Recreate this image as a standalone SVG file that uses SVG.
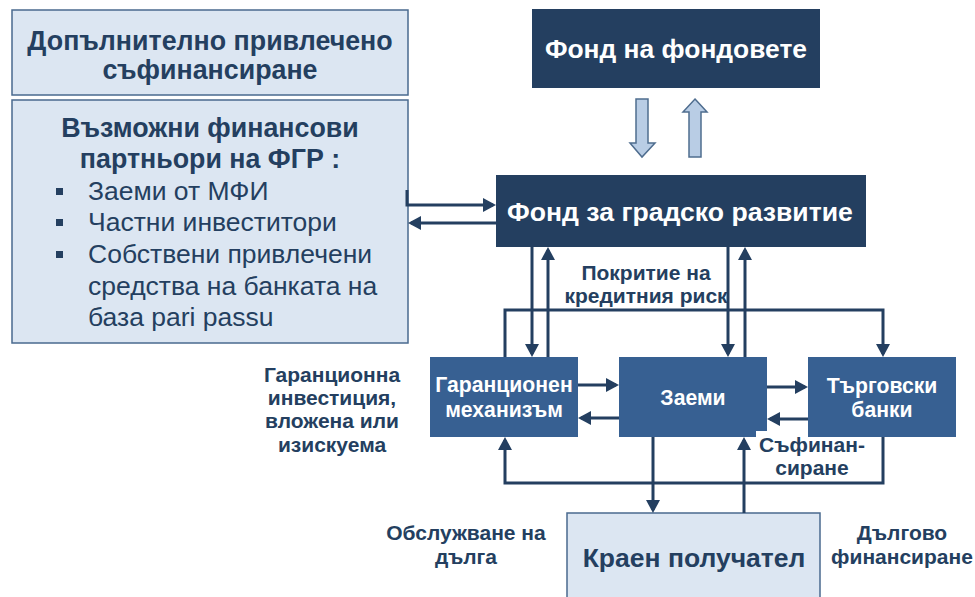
<svg xmlns="http://www.w3.org/2000/svg" width="975" height="597" viewBox="0 0 975 597">
<style>
.light{fill:#dce6f2;stroke:#4a6a8f;stroke-width:1.5}
.dark{fill:#243f60}
.mid{fill:#376092}
.tb{font-family:"Liberation Sans",Arial,sans-serif;font-weight:bold;fill:#243f60}
.tr{font-family:"Liberation Sans",Arial,sans-serif;fill:#243f60}
.tw{font-family:"Liberation Sans",Arial,sans-serif;font-weight:bold;fill:#ffffff}
.c{fill:none;stroke:#243f60;stroke-width:3}
.ca{fill:none;stroke:#243f60;stroke-width:3;marker-end:url(#ah)}
.blk{fill:#b9cde5;stroke:#4f6d8f;stroke-width:1.5}
</style>
<defs>
<marker id="ah" viewBox="0 0 13 14" refX="10" refY="7" markerWidth="13" markerHeight="14" markerUnits="userSpaceOnUse" orient="auto">
<path d="M0,0 L13,7 L0,14 z" fill="#243f60"/>
</marker>
</defs>
<rect width="975" height="597" fill="#ffffff"/>

<g id="cofin">
<rect class="light" x="12" y="10" width="396" height="85"/>
<text class="tb" font-size="26.8" text-anchor="middle" x="210" y="50">Допълнително привлечено</text>
<text class="tb" font-size="26.8" text-anchor="middle" x="210" y="79">съфинансиране</text>
</g>

<g id="partners">
<rect class="light" x="12" y="100" width="396" height="243"/>
<text class="tb" font-size="26.8" text-anchor="middle" x="210" y="137">Възможни финансови</text>
<text class="tb" font-size="26.8" text-anchor="middle" x="210" y="168">партньори на ФГР :</text>
<rect x="56" y="188" width="7" height="7" fill="#243f60"/>
<rect x="56" y="219" width="7" height="7" fill="#243f60"/>
<rect x="56" y="251" width="7" height="7" fill="#243f60"/>
<text class="tr" font-size="26.5" x="88" y="200">Заеми от МФИ</text>
<text class="tr" font-size="26.5" x="88" y="231">Частни инвеститори</text>
<text class="tr" font-size="26.5" x="88" y="263">Собствени привлечени</text>
<text class="tr" font-size="26.5" x="88" y="295">средства на банката на</text>
<text class="tr" font-size="26.5" x="88" y="326">база pari passu</text>
</g>

<g id="fof">
<rect class="dark" x="532" y="9" width="288" height="79"/>
<text class="tw" font-size="26.4" text-anchor="middle" x="676" y="58">Фонд на фондовете</text>
</g>

<g id="blockarrows">
<polygon class="blk" points="636,99 648,99 648,143 655,143 642,157 630,143 636,143"/>
<polygon class="blk" points="695,99 707,112 701,112 701,157 689,157 689,112 683,112"/>
</g>

<g id="fgr">
<rect class="dark" x="496" y="175" width="370" height="72"/>
<text class="tw" font-size="26.6" text-anchor="middle" x="680" y="221">Фонд за градско развитие</text>
</g>

<g id="guarantee">
<rect class="mid" x="430" y="357" width="148" height="80"/>
<text class="tw" font-size="21.2" text-anchor="middle" x="504" y="392">Гаранционен</text>
<text class="tw" font-size="21.2" text-anchor="middle" x="504" y="417">механизъм</text>
</g>

<g id="loans">
<rect class="mid" x="619" y="357" width="148" height="80"/>
<text class="tw" font-size="21.2" text-anchor="middle" x="693" y="405">Заеми</text>
</g>

<rect x="756" y="431" width="52" height="8" fill="#ffffff"/>

<g id="banks">
<rect class="mid" x="808" y="357" width="148" height="80"/>
<text class="tw" font-size="21.2" text-anchor="middle" x="882" y="393">Търговски</text>
<text class="tw" font-size="21.2" text-anchor="middle" x="882" y="417">банки</text>
</g>

<g id="final">
<rect class="light" x="567" y="513" width="253" height="90"/>
<text class="tb" font-size="26.5" text-anchor="middle" x="694" y="567">Краен получател</text>
</g>

<g id="connectors">
<path class="ca" d="M407,190 V205 H493"/>
<path class="ca" d="M496,223 H411"/>
<path class="ca" d="M532,247 V354"/>
<path class="ca" d="M548,357 V250"/>
<path class="ca" d="M728,247 V354"/>
<path class="ca" d="M745,357 V250"/>
<path class="ca" d="M505,357 V310 H883 V354"/>
<path class="ca" d="M578,385 H616"/>
<path class="ca" d="M619,418 H581"/>
<path class="ca" d="M767,387 H805"/>
<path class="ca" d="M808,419 H770"/>
<path class="ca" d="M883,437 V483 H505 V440"/>
<path class="ca" d="M653,437 V510"/>
<path class="ca" d="M744,513 V440"/>
</g>

<g id="labels">
<text class="tb" font-size="21" text-anchor="middle" x="646" y="280">Покритие на</text>
<text class="tb" font-size="21" text-anchor="middle" x="646" y="303">кредитния риск</text>
<text class="tb" font-size="21" text-anchor="middle" x="332" y="382">Гаранционна</text>
<text class="tb" font-size="21" text-anchor="middle" x="332" y="405">инвестиция,</text>
<text class="tb" font-size="21" text-anchor="middle" x="332" y="428">вложена или</text>
<text class="tb" font-size="21" text-anchor="middle" x="332" y="452">изискуема</text>
<text class="tb" font-size="21" text-anchor="middle" x="812" y="452">Съфинан-</text>
<text class="tb" font-size="21" text-anchor="middle" x="812" y="475">сиране</text>
<text class="tb" font-size="21" text-anchor="middle" x="466" y="540">Обслужване на</text>
<text class="tb" font-size="21" text-anchor="middle" x="466" y="564">дълга</text>
<text class="tb" font-size="21" text-anchor="middle" x="902" y="540">Дългово</text>
<text class="tb" font-size="21" text-anchor="middle" x="902" y="564">финансиране</text>
</g>
</svg>
